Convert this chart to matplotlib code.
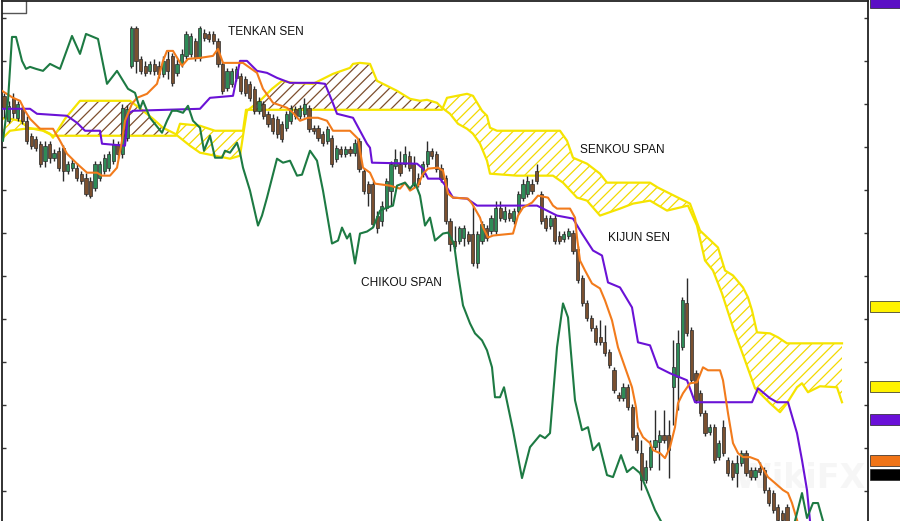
import numpy as np
import matplotlib.pyplot as plt
from matplotlib.patches import Rectangle
from matplotlib.transforms import blended_transform_factory

# candles (price units, one bar every STEP chart units)
T0 = 4.0
STEP = 4.552
opens = [905,880,903,883,892,880,865,862,857,840, 857,843,850,853,830,833,833,827,823,820,
         813,823,830,833,840,857,847,863,935,973, 942,935,930,937,935,927,942,945,928,937,
         945,947,960,943,968,967,967,960,937,913, 917,923,925,922,917,912,890,897,887,883,
         882,877,873,880,892,885,887,893,873,873, 867,860,863,842,852,847,852,848,860,830,
         817,817,785,780,793,810,835,837,837,845, 837,823,827,837,850,847,833,823,780,760,
         760,763,767,767,737,760,773,770,770,793, 782,788,780,790,803,807,817,830,807,783,
         775,783,765,762,765,768,752,722,697,682, 672,663,658,648,630,605,602,613,593,565,
         547,520,533,553,558,565,565,613,623,653, 697,670,627,607,587,568,573,543,573,540,
         537,527,537,547,530,523,532,530,510,507, 493,487,493]
highs = [908,900,908,900,895,885,868,865,860,860, 860,852,854,856,840,842,838,830,828,824,
         840,840,847,850,862,860,897,896,975,975, 945,940,940,942,940,945,950,948,942,952,
         970,968,963,975,972,970,970,963,940,933, 933,935,928,925,920,915,904,900,890,887,
         885,880,890,896,895,896,903,896,876,876, 870,875,866,856,855,855,855,862,863,833,
         820,820,790,800,823,840,852,850,855,850, 845,828,840,860,853,850,837,826,783,775,
         775,776,770,795,770,780,776,786,800,800, 795,792,793,810,822,825,822,837,810,786,
         786,786,770,770,773,771,755,725,700,685, 675,680,675,651,633,608,617,616,596,568,
         560,540,560,590,570,590,580,660,670,703, 722,673,630,610,590,576,576,560,580,543,
         540,545,550,550,533,533,538,533,513,510, 496,490,496]
lows = [883,878,883,880,877,857,852,850,834,834, 838,840,830,820,827,830,820,817,805,803,
        810,820,827,830,837,843,843,860,933,928, 927,925,927,926,923,924,922,915,925,934,
        942,944,940,940,960,959,957,934,907,910, 914,920,907,905,900,887,887,882,874,867,
        863,859,870,877,882,882,884,869,867,860, 855,857,834,839,844,844,845,845,829,807,
        795,774,768,775,790,795,832,825,834,830, 814,814,824,834,842,829,819,777,750,752,
        757,755,757,734,732,757,760,767,767,780, 779,780,777,787,800,804,807,817,777,770,
        772,757,757,759,762,747,717,694,679,669, 655,655,644,632,607,599,599,590,560,547,
        510,517,530,550,530,557,522,575,590,650, 664,617,597,584,564,565,537,540,544,524,
        520,513,534,524,520,520,525,507,494,487, 477,477,475]
closes = [893,895,888,897,880,860,855,853,837,855, 843,848,833,830,837,838,823,820,807,805,
          837,837,843,847,857,847,893,892,973,940, 930,928,937,930,927,940,930,918,937,947,
          967,965,943,973,963,962,960,937,910,930, 930,932,910,908,903,890,900,885,877,870,
          867,862,887,893,885,893,897,872,870,863, 858,872,837,853,847,852,848,858,832,810,
          808,777,773,795,820,837,842,828,847,833, 817,817,837,850,845,832,822,780,757,755,
          773,773,760,737,767,777,763,783,793,783, 790,783,790,807,817,820,810,820,780,773,
          783,760,760,767,770,750,720,697,682,672, 658,658,647,635,610,602,613,593,563,550,
          520,533,553,560,565,560,550,633,657,700, 667,620,600,587,567,573,540,557,547,527,
          523,537,547,527,523,530,528,510,497,490, 480,480,479]

# Ichimoku lines (time in chart units, price)
tenkan_t = [2,13,20,25,30,40,53,60,67,77, 87,97,102,110,117,122,125,132,137,147,
            157,163,167,173,182,188,200,213,218,223, 243,257,263,273,287,293,300,308,318,327,
            333,350,358,360,363,370,375,390,400,405, 410,418,423,428,438,443,448,453,468,472,
            480,483,488,493,513,518,523,532,538,548, 553,557,570,575,577,580,585,592,600,605,
            612,618,625,632,636,638,643,650,653,660, 665,670,675,678,683,690,697,703,708,720,
            723,728,733,738,743,750,758,762,768,775, 783,788,792,797,800]
tenkan = [910,903,900,890,882,872,872,860,847,837, 828,828,825,825,833,860,880,897,903,907,
          917,940,950,950,935,942,943,945,952,938, 938,928,912,898,893,888,880,883,883,880,
          870,870,862,850,833,828,817,815,812,818, 810,815,827,832,833,830,807,803,802,797,
          783,773,763,765,767,785,793,798,805,803, 795,792,792,783,763,740,730,717,712,700,
          680,653,633,613,593,573,563,557,550,547, 542,553,573,597,607,617,618,633,630,630,
          620,587,557,547,543,543,540,533,523,517, 510,507,497,480,470]

kijun_t = [2,30,37,67,77,85,100,102,125,128, 133,200,210,233,240,247,257,267,277,290,
           317,325,332,337,353,360,367,370,372,417, 423,428,440,447,453,467,477,537,547,557,
           573,582,593,602,608,620,632,638,650,658, 670,687,695,752,758,770,777,788,797,802,
           807,810,812]
kijun = [892,892,887,885,878,870,870,857,855,887, 890,892,903,905,940,940,930,928,923,918,
         918,917,900,887,883,870,857,853,838,837, 832,822,822,813,803,802,795,795,790,785,
         782,767,750,745,718,713,693,658,655,633, 627,620,598,598,612,602,598,598,567,540,
         510,479,465]

chikou_t = [3,8,12,16,22,26,30,36,43,50, 60,72,80,86,98,107,117,128,135,140,
            143,150,162,167,172,177,183,188,193,200, 204,210,215,222,225,230,237,240,243,250,
            258,262,267,277,283,290,297,302,310,317, 323,332,338,342,347,350,355,360,367,373,
            380,387,393,397,405,410,415,420,425,430, 435,443,448,454,458,463,470,475,482,487,
            492,495,500,504,513,522,530,540,545,550, 557,563,568,575,582,588,593,599,607,613,
            621,627,633,640,647,655,663,675,780,795, 802,807,813,818,823,826]
chikou = [860,900,964,964,940,932,934,932,930,937, 932,965,947,967,962,917,930,912,908,892,
          900,883,868,880,890,890,888,895,880,873, 850,865,843,843,850,848,858,848,833,810,
          775,785,803,842,838,840,825,826,850,840, 810,757,760,773,762,767,737,767,769,773,
          790,793,795,815,818,812,818,805,775,783, 760,767,768,757,727,695,677,667,660,650,
          633,603,603,613,570,522,553,565,562,567, 653,697,683,600,570,573,550,557,525,523,
          545,528,533,527,510,490,475,455,455,479, 507,482,497,497,479,470]

senkou_a_t = [0,10,25,40,50,53,65,80,130,143, 153,163,175,180,190,200,215,230,240,243,
              247,260,272,282,293,313,333,350,353,360, 370,377,387,397,410,420,427,437,442,450,
              458,467,473,480,487,490,517,540,553,563, 577,587,600,620,633,650,667,688,697,705,
              713,722,733,745,755,770,780,787,797,802, 808,820,837,842]
senkou_a = [860,870,872,872,867,863,882,900,900,890, 882,873,867,863,855,848,845,842,845,865,
            890,900,912,920,918,917,927,933,937,938, 937,920,915,910,902,900,901,898,893,887,
            877,872,867,857,840,827,825,825,825,818, 803,800,785,792,797,800,790,795,775,740,
            730,707,673,640,612,597,588,597,613,617, 608,614,613,598]

senkou_b_t = [0,10,20,28,43,53,176,180,200,215, 243,246,442,447,457,467,473,482,487,490,
              497,560,567,573,587,600,607,650,658,680, 690,700,718,725,733,743,748,752,757,770,
              778,787,842]
senkou_b = [883,882,880,873,870,865,865,877,875,870, 870,891,891,903,905,907,905,890,885,873,
            870,870,860,843,837,827,818,818,813,802, 797,770,753,730,725,713,703,690,668,667,
            663,657,657]

# price tags on the right edge
tag_prices = [998, 694, 614, 581, 540, 526]
tag_colors = ['#5b0fc4', '#fff200', '#fff200', '#6a10d8', '#f07417', '#000000']

labels = ['TENKAN SEN', 'SENKOU SPAN', 'KIJUN SEN', 'CHIKOU SPAN']
label_t = [228, 580, 608, 361]
label_p = [969, 851, 763, 717]

plt.rcParams['hatch.linewidth'] = 0.9

fig = plt.figure(figsize=(9, 5.21), dpi=100)
ax = fig.add_axes([2 / 900, 0, 866 / 900, 520 / 521])

# kumo cloud
tt = np.linspace(0, 842, 2000)
sa = np.interp(tt, senkou_a_t, senkou_a)
sb = np.interp(tt, senkou_b_t, senkou_b)
ax.fill_between(tt, sa, sb, where=sa >= sb, interpolate=True, facecolor='none',
                edgecolor='#7d4e2e', hatch='///', linewidth=0, zorder=1)
ax.fill_between(tt, sa, sb, where=sa < sb, interpolate=True, facecolor='none',
                edgecolor='#f3d900', hatch='///', linewidth=0, zorder=1)
ax.plot(senkou_a_t, senkou_a, color='#f5e400', lw=1.6, zorder=2)
ax.plot(senkou_b_t, senkou_b, color='#f5e400', lw=1.6, zorder=2)

# candles
o = np.array(opens, float)
c = np.array(closes, float)
h = np.maximum(np.array(highs, float), np.maximum(o, c))
l = np.minimum(np.array(lows, float), np.minimum(o, c))
x = T0 + STEP * np.arange(len(o))
up = c >= o
body = np.where(np.abs(c - o) < 1.5, np.where(up, 1.5, -1.5), c - o)
ax.vlines(x, l, h, color='#2b2b2b', lw=1.0, zorder=3)
ax.bar(x, body, bottom=o, width=3.2, color=np.where(up, '#2e8b57', '#7a5030'),
       edgecolor='#2b2b2b', linewidth=0.5, zorder=3.5)

# lines
ax.plot(kijun_t, kijun, color='#6a12d6', lw=1.5, zorder=4)
ax.plot(tenkan_t, tenkan, color='#f27b1c', lw=1.5, zorder=4)
ax.plot(chikou_t, chikou, color='#1d7a43', lw=1.5, zorder=4)

for txt, tx, ty in zip(labels, label_t, label_p):
    ax.text(tx, ty, txt, fontsize=8.6, family='Liberation Sans', color='#111111',
            ha='left', va='center', zorder=5)

# watermark
ax.text(800, 522, 'WikiFX', fontsize=24, color='#e4e4e4', alpha=0.3,
        weight='bold', ha='center', va='center', zorder=2.5)

ax.set_xlim(2, 868)
ax.set_ylim(479, 1000)

yt = 983 - 43.1 * np.arange(12)
ax.set_yticks(yt)
ax.set_xticks([])
ax.tick_params(axis='y', direction='in', left=True, right=True, length=3,
               width=1, color='#333333', labelleft=False, labelright=False)
for s in ['left', 'right', 'top']:
    ax.spines[s].set_linewidth(1.3)
    ax.spines[s].set_color('#222222')
ax.spines['bottom'].set_visible(False)

# small box in the top left corner
ax.plot([0, 0.0277, 0.0277], [0.977, 0.977, 1.0], transform=ax.transAxes,
        color='#555555', lw=1, clip_on=False)

# price tags
trans = blended_transform_factory(ax.transAxes, ax.transData)
for p, col in zip(tag_prices, tag_colors):
    ax.add_patch(Rectangle((1.0025, p - 5.5), 0.04, 11, transform=trans,
                           facecolor=col, edgecolor='#222222', linewidth=0.5,
                           clip_on=False))

fig.savefig('out.png', dpi=100)
